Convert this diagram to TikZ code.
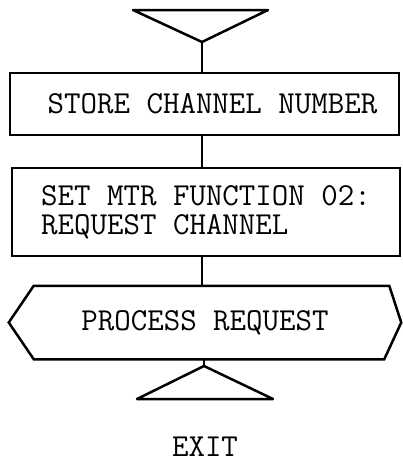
\documentclass[tikz,border=0pt]{standalone}
\usetikzlibrary{positioning}
\begin{document}
\begin{tikzpicture}[x=1pt, y=1pt, line width=2.5pt,
    procbox/.style ={draw, rectangle, inner sep=0pt, font=\fontsize{32}{31}\ttfamily},
    txt/.style ={inner sep=0pt, font=\fontsize{32}{31}\ttfamily}]
   \useasboundingbox (0,0) rectangle (402,-474);
   % entry and exit connectors
   \coordinate (entry) at (202,-42);
   \coordinate (exitpt) at (204,-366);
   \draw[line join=round] (133,-10) -- (268,-10) -- (entry) -- cycle;
   \draw[line join=round] (137,-399) -- (273,-399) -- (exitpt) -- cycle;

   \node[procbox, minimum width=389, minimum height=62] (store) at (204.5,-104)
        {\hspace*{16pt}STORE CHANNEL NUMBER};
   \node[procbox, minimum width=388, minimum height=88, align=left] (setmtr) at (206,-212)
        {SET MTR FUNCTION 02:\\[-2pt]REQUEST CHANNEL};
   \node[txt, minimum width=390, minimum height=71] (process) at (205,-322.5) {PROCESS REQUEST};
   \draw ([xshift=25]process.north west) -- ([xshift=-12]process.north east) -- (process.east)
      -- ([xshift=-17]process.south east) -- ([xshift=25]process.south west) -- (process.west) -- cycle;
   \node[txt] (exit) at (205,-447) {EXIT};

   \draw (entry) to (store.north -| entry);
   \draw (store.south -| entry) to (setmtr.north -| entry);
   \draw (setmtr.south -| entry) to (process.north -| entry);
   \draw (process.south -| exitpt) to (exitpt);
 \end{tikzpicture}
\end{document}
